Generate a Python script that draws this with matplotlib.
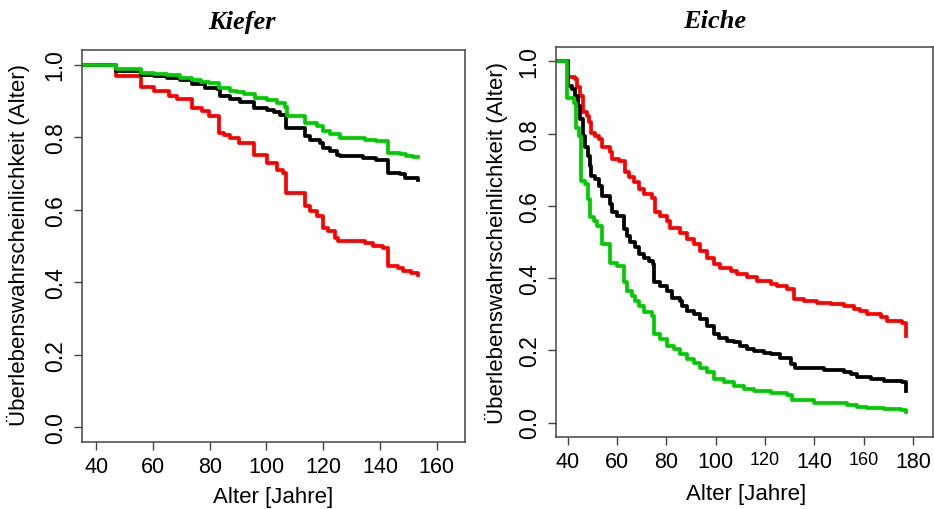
import matplotlib
matplotlib.use("Agg")
import matplotlib.pyplot as plt

# Kiefer (left panel): step points (Alter, Überlebenswahrscheinlichkeit)
kiefer_red_x = [30, 46.9, 55.7, 60.4, 65.6, 68.6, 73.8, 77.3, 79.7, 83.2, 85.0, 87.3, 90.2, 95.5,
                100.2, 103.7, 106.0, 106.8, 113.6, 115.4, 117.7, 120.1, 121.8, 124.2, 125.3,
                134.7, 137.6, 141.1, 142.9, 146.4, 148.2, 151.1, 153.4]
kiefer_red_y = [1.0, 0.967, 0.938, 0.926, 0.912, 0.905, 0.881, 0.871, 0.857, 0.811, 0.806, 0.797,
                0.783, 0.751, 0.728, 0.710, 0.700, 0.646, 0.609, 0.596, 0.582, 0.550, 0.541, 0.522,
                0.513, 0.508, 0.500, 0.494, 0.444, 0.440, 0.430, 0.425, 0.421]

kiefer_black_x = [30, 46.9, 55.7, 60.4, 65.1, 69.7, 73.8, 78.5, 82.6, 83.8, 87.3, 90.8, 95.5,
                  100.2, 102.5, 104.9, 106.8, 113.6, 115.4, 118.9, 120.1, 122.4, 124.8, 125.9,
                  134.1, 138.8, 142.9, 147.0, 148.8, 153.4]
kiefer_black_y = [1.0, 0.983, 0.972, 0.967, 0.963, 0.956, 0.947, 0.935, 0.932, 0.912, 0.906,
                  0.898, 0.880, 0.876, 0.868, 0.861, 0.825, 0.802, 0.793, 0.785, 0.770, 0.761,
                  0.751, 0.747, 0.743, 0.738, 0.701, 0.697, 0.687, 0.683]

kiefer_green_x = [30, 46.9, 55.7, 60.4, 65.1, 69.7, 73.8, 76.8, 79.7, 83.2, 87.3, 89.6, 92.0,
                  96.1, 100.2, 103.7, 106.6, 107.2, 113.6, 117.7, 120.1, 122.4, 125.9, 134.7,
                  138.8, 142.9, 147.0, 149.3, 151.7, 153.4]
kiefer_green_y = [1.0, 0.987, 0.978, 0.974, 0.970, 0.962, 0.958, 0.953, 0.949, 0.935, 0.928,
                  0.923, 0.918, 0.907, 0.903, 0.894, 0.884, 0.859, 0.839, 0.831, 0.817, 0.809,
                  0.797, 0.793, 0.788, 0.756, 0.753, 0.749, 0.745, 0.744]

# Eiche (right panel)
eiche_red_x = [30, 40.0, 43.1, 43.8, 45.1, 46.2, 47.8, 48.5, 49.5, 51.2, 52.6, 53.9, 57.3, 58.0,
               60.7, 63.4, 64.7, 66.8, 68.8, 70.8, 74.2, 75.3, 77.6, 80.3, 81.6, 85.7, 88.4,
               91.1, 93.8, 96.5, 99.2, 101.9, 106.0, 108.6, 112.7, 116.8, 122.2, 124.9, 128.9,
               131.6, 135.7, 141.1, 146.5, 151.9, 155.9, 158.6, 161.4, 166.8, 169.5, 175.5, 176.9]
eiche_red_y = [1.0, 0.958, 0.951, 0.928, 0.905, 0.859, 0.849, 0.831, 0.803, 0.794, 0.785, 0.762,
               0.748, 0.729, 0.725, 0.693, 0.679, 0.665, 0.646, 0.633, 0.623, 0.582, 0.572,
               0.559, 0.540, 0.526, 0.508, 0.494, 0.476, 0.457, 0.439, 0.429, 0.420, 0.411,
               0.402, 0.392, 0.383, 0.379, 0.369, 0.342, 0.337, 0.332, 0.327, 0.323, 0.314,
               0.309, 0.300, 0.291, 0.282, 0.277, 0.240]

eiche_black_x = [30, 40.0, 41.8, 43.1, 44.1, 45.1, 46.2, 47.2, 48.1, 48.9, 49.5, 51.2, 52.6,
                 53.9, 57.3, 58.0, 60.0, 62.7, 64.1, 65.4, 67.4, 68.8, 70.8, 72.8, 74.6, 75.1,
                 77.6, 80.3, 82.3, 85.7, 86.4, 88.4, 91.1, 93.8, 96.5, 99.2, 101.2, 104.6, 107.3,
                 110.0, 112.7, 115.4, 119.5, 122.2, 126.2, 130.3, 132.3, 138.4, 143.8, 151.9,
                 154.6, 157.3, 162.7, 168.1, 175.5, 176.9]
eiche_black_y = [1.0, 0.931, 0.923, 0.905, 0.877, 0.840, 0.794, 0.762, 0.739, 0.711, 0.683,
                 0.674, 0.656, 0.628, 0.605, 0.582, 0.572, 0.536, 0.517, 0.499, 0.485, 0.466,
                 0.457, 0.448, 0.439, 0.388, 0.379, 0.365, 0.346, 0.337, 0.323, 0.309, 0.300,
                 0.286, 0.268, 0.245, 0.235, 0.226, 0.222, 0.212, 0.205, 0.199, 0.194, 0.189,
                 0.180, 0.162, 0.152, 0.150, 0.145, 0.140, 0.134, 0.127, 0.120, 0.114, 0.111,
                 0.088]

eiche_green_x = [30, 39.6, 42.4, 43.5, 44.5, 45.5, 47.2, 48.1, 48.9, 50.5, 51.9, 53.9, 57.3,
                 60.0, 62.7, 64.1, 66.1, 67.4, 68.8, 70.8, 74.2, 74.9, 77.6, 80.3, 83.0, 85.7,
                 88.4, 91.1, 93.8, 96.5, 99.2, 103.2, 107.3, 111.4, 115.4, 122.2, 128.9, 130.9,
                 139.7, 153.2, 157.3, 161.4, 168.1, 174.9, 176.9]
eiche_green_y = [1.0, 0.898, 0.886, 0.817, 0.794, 0.669, 0.660, 0.619, 0.568, 0.559, 0.545,
                 0.494, 0.443, 0.434, 0.388, 0.365, 0.351, 0.337, 0.323, 0.305, 0.295, 0.245,
                 0.231, 0.212, 0.203, 0.189, 0.175, 0.166, 0.152, 0.139, 0.120, 0.111, 0.102,
                 0.094, 0.088, 0.083, 0.076, 0.062, 0.055, 0.048, 0.044, 0.039, 0.037, 0.035,
                 0.028]

yticks = [0.0, 0.2, 0.4, 0.6, 0.8, 1.0]
kiefer_xticks = [40, 60, 80, 100, 120, 140, 160]
eiche_xticks = [40, 60, 80, 100, 120, 140, 160, 180]

RED = "#FF0000"
GREEN = "#00CD00"
FRAME = "#444444"
W, H = 934, 510

plt.rcParams["font.family"] = ["Liberation Sans", "DejaVu Sans"]
fig = plt.figure(figsize=(W / 100, H / 100), dpi=100)


def px_box(left, top, right, bottom):
    return [left / W, 1 - bottom / H, (right - left) / W, (bottom - top) / H]


def style_axis(ax, xticks, xlim, small=()):
    ax.set_xlim(*xlim)
    ax.set_ylim(-0.04, 1.04)
    ax.set_xticks(xticks)
    ax.set_yticks(yticks)
    ax.set_yticklabels(["%.1f" % v for v in yticks], rotation=90, va="center")
    ax.tick_params(direction="out", length=6, width=1, color=FRAME, labelsize=15.5, pad=4)
    ax.tick_params(axis="y", labelsize=16.5, pad=5)
    for lab, v in zip(ax.get_xticklabels(), xticks):
        if v in small:
            lab.set_fontsize(13)
    for s in ax.spines.values():
        s.set_color(FRAME)
        s.set_linewidth(1.1)


ax1 = fig.add_axes(px_box(82, 51, 465, 443))
ax1.plot(kiefer_red_x, kiefer_red_y, drawstyle="steps-post", color=RED, lw=2.7)
ax1.plot(kiefer_black_x, kiefer_black_y, drawstyle="steps-post", color="black", lw=2.7)
ax1.plot(kiefer_green_x, kiefer_green_y, drawstyle="steps-post", color=GREEN, lw=2.7)
style_axis(ax1, kiefer_xticks, (35, 170))

ax2 = fig.add_axes(px_box(556, 48, 933, 438))
ax2.plot(eiche_red_x, eiche_red_y, drawstyle="steps-post", color=RED, lw=2.7)
ax2.plot(eiche_black_x, eiche_black_y, drawstyle="steps-post", color="black", lw=2.7)
ax2.plot(eiche_green_x, eiche_green_y, drawstyle="steps-post", color=GREEN, lw=2.7)
style_axis(ax2, eiche_xticks, (35.3, 188), small=(120, 160))

ylab = "Überlebenswahrscheinlichkeit (Alter)"
fig.text(18 / W, 1 - 245 / H, ylab, rotation=90, ha="center", va="center", fontsize=16)
fig.text(496 / W, 1 - 243 / H, ylab, rotation=90, ha="center", va="center", fontsize=16)

fig.text(273 / W, 1 - 487 / H, "Alter [Jahre]", ha="center", va="top", fontsize=16)
fig.text(746 / W, 1 - 484 / H, "Alter [Jahre]", ha="center", va="top", fontsize=16)

fig.text(242 / W, 1 - 22 / H, "Kiefer", ha="center", va="center", fontsize=19,
         family="Liberation Serif", weight="bold", style="italic")
fig.text(715 / W, 1 - 22 / H, "Eiche", ha="center", va="center", fontsize=19,
         family="Liberation Serif", weight="bold", style="italic")

fig.savefig("out.png", dpi=100)
